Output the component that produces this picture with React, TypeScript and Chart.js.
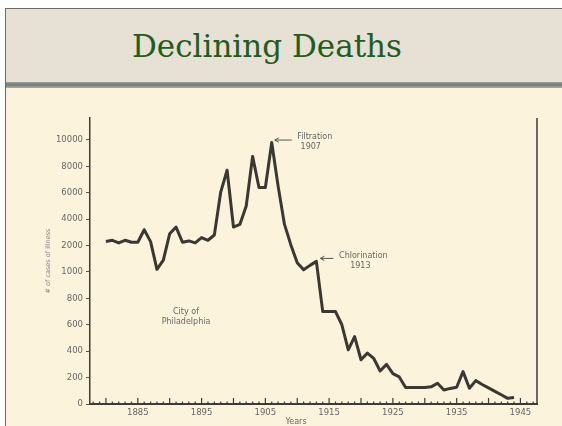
import React, { useEffect, useRef } from "react";
import { Chart, registerables } from "chart.js";

Chart.register(...registerables);

const years: number[] = [
  1880, 1881, 1882, 1883, 1884, 1885, 1886, 1887, 1888, 1889,
  1890, 1891, 1892, 1893, 1894, 1895, 1896, 1897, 1898, 1899,
  1900, 1901, 1902, 1903, 1904, 1905, 1906, 1907, 1908, 1909,
  1910, 1911, 1912, 1913, 1914, 1915, 1916, 1917, 1918, 1919,
  1920, 1921, 1922, 1923, 1924, 1925, 1926, 1927, 1928, 1929,
  1930, 1931, 1932, 1933, 1934, 1935, 1936, 1937, 1938, 1939,
  1940, 1941, 1942, 1943, 1944,
];

const cases: number[] = [
  2300, 2400, 2200, 2400, 2250, 2250, 3200, 2300, 1100, 1450,
  2900, 3400, 2250, 2350, 2200, 2600, 2400, 2800, 6050, 7700,
  3400, 3600, 5000, 8750, 6400, 6400, 9800, 6500, 3600, 2050,
  1350, 1080, 1250, 1400, 700, 700, 700, 600, 410, 510,
  335, 385, 345, 250, 300, 230, 205, 125, 125, 125,
  125, 130, 157, 106, 118, 127, 245, 119, 177, 148,
  122, 96, 70, 43, 50,
];

// evenly spaced (non-linear) value ticks of the original figure
const yTickValues: number[] = [0, 200, 400, 600, 800, 1000, 2000, 4000, 6000, 8000, 10000];
const yTickLabels: string[] = ["0", "200", "400", "600", "800", "1000", "2000", "4000", "6000", "8000", "10000"];
const xTickLabels: number[] = [1885, 1895, 1905, 1915, 1925, 1935, 1945];

// map a value onto the piecewise axis (index of yTickValues)
function toAxis(v: number): number {
  for (let i = 0; i < yTickValues.length - 1; i++) {
    const a = yTickValues[i];
    const b = yTickValues[i + 1];
    if (v <= b) return i + (v - a) / (b - a);
  }
  const n = yTickValues.length - 1;
  const step = yTickValues[n] - yTickValues[n - 1];
  return n + (v - yTickValues[n]) / step;
}

const FONT = "'DejaVu Sans', sans-serif";

const decorPlugin = {
  id: "decor",
  afterDraw(chart: any) {
    const { ctx, chartArea, scales } = chart;
    const xs = scales.x;
    const ys = scales.y;
    ctx.save();
    // right frame line
    ctx.strokeStyle = "#3e3a36";
    ctx.lineWidth = 1.5;
    ctx.beginPath();
    ctx.moveTo(chartArea.right, chartArea.top);
    ctx.lineTo(chartArea.right, chartArea.bottom);
    ctx.stroke();
    // inward ticks on x axis
    ctx.lineWidth = 1.2;
    for (let y = 1878; y <= 1947; y++) {
      const px = xs.getPixelForValue(y);
      const len = y % 5 === 0 ? 6 : 2.5;
      ctx.beginPath();
      ctx.moveTo(px, chartArea.bottom);
      ctx.lineTo(px, chartArea.bottom - len);
      ctx.stroke();
    }
    // annotations
    ctx.fillStyle = "#666";
    ctx.font = `8px ${FONT}`;
    ctx.textAlign = "center";
    ctx.textBaseline = "middle";
    const peakX = xs.getPixelForValue(1906);
    const peakY = ys.getPixelForValue(toAxis(9800));
    ctx.fillText("Filtration", peakX + 43, peakY - 6);
    ctx.fillText("1907", peakX + 39, peakY + 4);
    const chX = xs.getPixelForValue(1913);
    const chY = ys.getPixelForValue(toAxis(1400));
    ctx.fillText("Chlorination", chX + 47, chY - 5);
    ctx.fillText("1913", chX + 44, chY + 5);
    ctx.fillText("City of", 186, 312);
    ctx.fillText("Philadelphia", 186, 322);
    ctx.fillText("Years", 296, 422);
    // arrows
    ctx.strokeStyle = "#555";
    ctx.lineWidth = 1;
    const arrow = (x1: number, x2: number, yy: number) => {
      ctx.beginPath();
      ctx.moveTo(x1, yy);
      ctx.lineTo(x2, yy);
      ctx.stroke();
      ctx.beginPath();
      ctx.moveTo(x2 + 4, yy - 2.2);
      ctx.lineTo(x2, yy);
      ctx.lineTo(x2 + 4, yy + 2.2);
      ctx.stroke();
    };
    arrow(peakX + 20, peakX + 3, peakY - 2.5);
    arrow(chX + 17, chX + 4, chY - 3);
    ctx.restore();
  },
};

function App() {
  const ref = useRef<HTMLCanvasElement | null>(null);
  useEffect(() => {
    if (!ref.current) return;
    const chart = new Chart(ref.current, {
      type: "line",
      data: {
        datasets: [
          {
            data: years.map((y, i) => ({ x: y, y: toAxis(cases[i]) })),
            borderColor: "#3b3733",
            borderWidth: 3,
            pointRadius: 0,
            tension: 0,
            borderJoinStyle: "round",
            fill: false,
          },
        ],
      },
      options: {
        animation: false,
        responsive: false,
        devicePixelRatio: 1,
        layout: { padding: { left: 40, right: 25, top: 118, bottom: 0 } },
        plugins: { legend: { display: false }, tooltip: { enabled: false }, title: { display: false } },
        scales: {
          x: {
            type: "linear",
            min: 1877.5,
            max: 1947.6,
            afterBuildTicks: (scale: any) => {
              scale.ticks = xTickLabels.map((v) => ({ value: v }));
            },
            afterFit: (scale: any) => {
              scale.height = 22;
            },
            grid: { display: false, drawTicks: false },
            border: { display: true, color: "#3e3a36", width: 2 },
            ticks: {
              autoSkip: false,
              maxRotation: 0,
              padding: 4,
              color: "#666",
              font: { family: FONT, size: 8.5 },
              callback: (v: any) => String(v),
            },
          },
          y: {
            type: "linear",
            min: 0,
            max: 10.83,
            afterBuildTicks: (scale: any) => {
              scale.ticks = yTickLabels.map((_, i) => ({ value: i }));
            },
            afterFit: (scale: any) => {
              scale.width = 50;
            },
            grid: { display: true, drawOnChartArea: false, drawTicks: true, tickLength: 4, color: "#555", lineWidth: 1 },
            border: { display: true, color: "#3e3a36", width: 1.5 },
            title: {
              display: true,
              text: "# of cases of illness",
              color: "#888",
              font: { family: FONT, size: 6.5 },
              padding: { top: 4, bottom: 0 },
            },
            ticks: {
              autoSkip: false,
              padding: 3,
              color: "#666",
              font: { family: FONT, size: 8.5 },
              callback: (v: any) => yTickLabels[Math.round(Number(v))] ?? "",
            },
          },
        },
      },
      plugins: [decorPlugin],
    } as any);
    return () => chart.destroy();
  }, []);

  return (
    <div style={{ position: "fixed", left: 0, top: 0, width: 562, height: 426, background: "#ffffff", overflow: "hidden" }}>
      <div style={{ position: "absolute", left: 5, top: 8, right: 0, bottom: 0, background: "#FCF3DC", borderLeft: "1px solid #6a6a6a", borderTop: "1px solid #6a6a6a" }} />
      <div style={{ position: "absolute", left: 6, top: 9, right: 0, height: 74, background: "#E7E0D4" }} />
      <div style={{ position: "absolute", left: 6, top: 82, right: 0, height: 6, background: "linear-gradient(180deg, #9aa39c 0%, #6f7b74 45%, #a7afa8 100%)" }} />
      <div style={{ position: "absolute", left: 0, top: 31, width: 534, textAlign: "center", fontFamily: "'DejaVu Serif', serif", fontSize: 31, lineHeight: "31px", color: "#235C1E", whiteSpace: "nowrap" }}>
        Declining Deaths
      </div>
      <canvas ref={ref} width={562} height={426} style={{ position: "absolute", left: 0, top: 0, width: 562, height: 426 }} />
    </div>
  );
}

export default App;
